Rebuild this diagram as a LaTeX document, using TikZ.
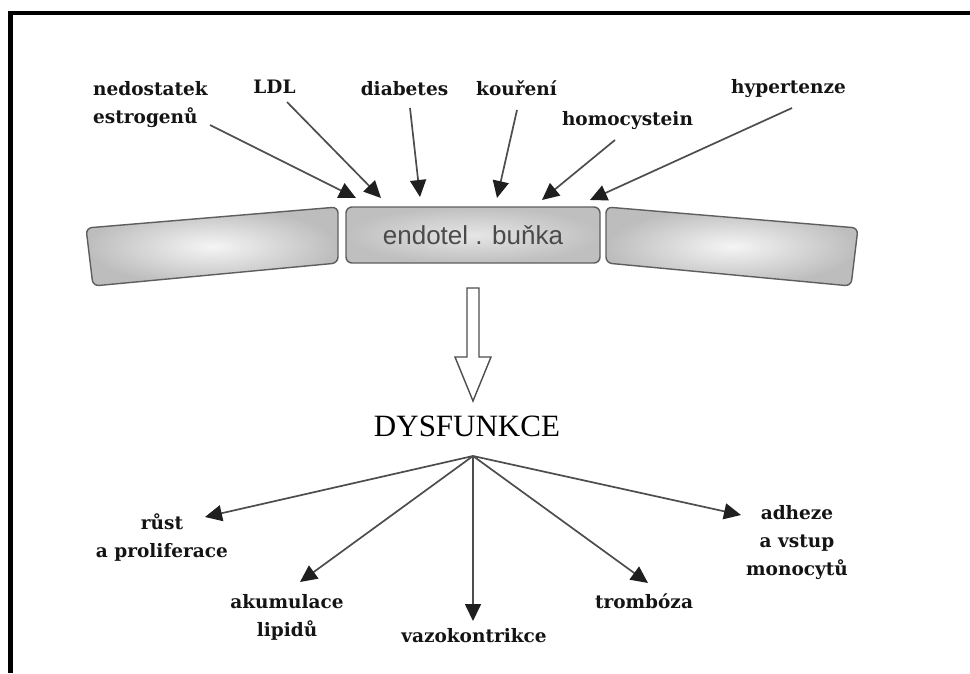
\documentclass[tikz,border=0pt]{standalone}
\usepackage{fontspec}
\usetikzlibrary{arrows.meta}
\newfontfamily\labfont{DejaVu Serif}
\newfontfamily\dysfont{Liberation Serif}
\newfontfamily\cellfont{Liberation Sans}
\definecolor{linegray}{HTML}{4D4D4D}
\definecolor{edgegray}{HTML}{5E5E5E}
\definecolor{txtgray}{HTML}{4A4A4A}
\tikzset{
  lab/.style={inner sep=0pt, font=\labfont\bfseries\fontsize{18.5}{28}\selectfont, text=black!92},
  arr/.style={draw=linegray, line width=1.7pt, -{Triangle[length=17pt,width=16pt,color=black!88]}},
  cellshape/.style={draw=edgegray, line width=1.4pt, rounded corners=6pt, inner color=white!96!black, outer color=black!26},
  midcell/.style={draw=edgegray, line width=1.4pt, rounded corners=6pt, inner color=black!10, outer color=black!25,
    minimum width=254pt, minimum height=56pt, inner sep=0pt, text=txtgray, font=\cellfont\fontsize{26}{30}\selectfont},
  hollow/.style={draw=linegray, line width=1.4pt, fill=white, line join=miter}
}
\begin{document}
\begin{tikzpicture}[x=1pt,y=-1pt]
\useasboundingbox (0,0) rectangle (970,673);
\fill[white] (0,0) rectangle (970,673);
% frame
\draw[line width=4.5pt, line join=miter] (10.5,673) -- (10.5,13) -- (970,13);

% cells
\path[cellshape] (86,228) -- (338,207) -- (338,263) -- (93,286) -- cycle;
\path[cellshape] (858,228) -- (606,207) -- (606,263) -- (851,286) -- cycle;
\node[midcell] (cell) at (473,235) {endotel . buňka};

% top labels
\node[lab, anchor=base west, align=left] (nedo) at (93,123) {nedostatek\\estrogenů};
\node[lab, anchor=base] (ldl) at (274.5,93) {LDL};
\node[lab, anchor=base] (diab) at (404.5,95) {diabetes};
\node[lab, anchor=base] (kour) at (516.5,95) {kouření};
\node[lab, anchor=base] (homo) at (627.5,125) {homocystein};
\node[lab, anchor=base] (hyper) at (788.5,93) {hypertenze};

% arrow ends
\coordinate (s1) at (210,125); \coordinate (t1) at (356,198);
\coordinate (s2) at (287,102); \coordinate (t2) at (381,198);
\coordinate (s3) at (410,108); \coordinate (t3) at (420,197);
\coordinate (s4) at (517,110); \coordinate (t4) at (497,198);
\coordinate (s5) at (615,140); \coordinate (t5) at (542,200);
\coordinate (s6) at (792,108); \coordinate (t6) at (590,200);
\foreach \i in {1,...,6} {\draw[arr] (s\i) -- (t\i);}

% hollow arrow
\path[hollow] (467,288) -- (479,288) -- (479,357) -- (491,357) -- (473,401) -- (455,357) -- (467,357) -- cycle;

% DYSFUNKCE
\node[inner sep=0pt, anchor=base, font=\dysfont\fontsize{31}{34}\selectfont] (dys) at (467,436) {DYSFUNKCE};
\coordinate (apex) at (473,456);

% bottom labels
\node[lab, anchor=base, align=center] (rust) at (162,557) {růst\\a proliferace};
\node[lab, anchor=base, align=center] (akum) at (287,636) {akumulace\\lipidů};
\node[lab, anchor=base] (vazo) at (474,642) {vazokontrikce};
\node[lab, anchor=base] (trom) at (644,608) {trombóza};
\node[lab, anchor=base, align=center] (adh) at (797,575) {adheze\\a vstup\\monocytů};

\coordinate (e1) at (205,517);
\coordinate (e2) at (300,582);
\coordinate (e3) at (473,621);
\coordinate (e4) at (648,583);
\coordinate (e5) at (741,515);
\foreach \i in {1,...,5} {\draw[arr] (apex) -- (e\i);}
\end{tikzpicture}
\end{document}
